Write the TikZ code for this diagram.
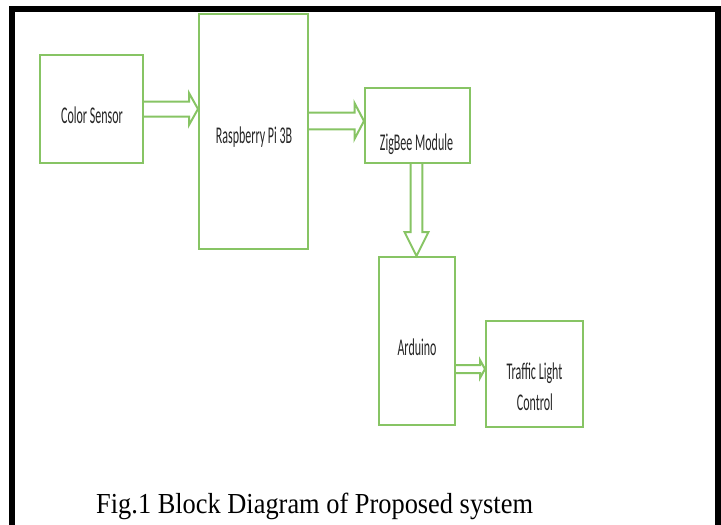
\documentclass[tikz,border=0pt]{standalone}
\usepackage{fontspec}
\usetikzlibrary{calc}
\newfontfamily\lblfont[FakeStretch=0.5]{Carlito}
\newfontfamily\capfont[FakeStretch=0.91]{Liberation Serif}
\definecolor{boxgreen}{RGB}{135,196,100}
\tikzset{
  blockbox/.style={draw=boxgreen, line width=2pt, fill=white, inner sep=0pt},
  lbl/.style={font=\fontsize{24}{26}\selectfont\lblfont, text=black!85, inner sep=0pt, align=center},
  conn/.style={draw=boxgreen, line width=2pt, fill=white, line join=miter},
}
\begin{document}
\begin{tikzpicture}[x=1pt,y=-1pt]
\useasboundingbox (0,0) rectangle (721,525);
% black frame
\draw[line width=6pt, line join=miter] (12,525) -- (12,9) -- (718,9) -- (718,525);
% boxes
\node[blockbox, minimum width=103pt, minimum height=108pt] (cs) at (91.5,109) {};
\node[blockbox, minimum width=109pt, minimum height=235pt] (rp) at (253.5,131.5) {};
\node[blockbox, minimum width=105pt, minimum height=75pt] (zb) at (417.5,125.5) {};
\node[blockbox, minimum width=76pt, minimum height=168pt] (ar) at (417,341) {};
\node[blockbox, minimum width=97pt, minimum height=106pt] (tl) at (534.5,374) {};
% labels
\node[lbl, anchor=base] (csl) at (92,123) {Color Sensor};
\node[lbl, anchor=base] (rpl) at (254,143) {Raspberry Pi 3B};
\node[lbl, anchor=base] (zbl) at (416.5,150) {ZigBee Module};
\node[lbl, anchor=base] (arl) at (417,355) {Arduino};
\node[lbl, anchor=base] (tll1) at (534.5,379) {Traffic Light};
\node[lbl, anchor=base] (tll2) at (535,410) {Control};
% block arrows
\draw[conn] let \p1=(cs.east), \p2=(rp.west) in
  (\x1,\y1+7.5pt) -- (\x2-9pt,\y1+7.5pt) -- (\x2-9pt,\y1+16pt) -- (\x2,\y1)
  -- (\x2-9pt,\y1-16pt) -- (\x2-9pt,\y1-7.5pt) -- (\x1,\y1-7.5pt);
\draw[conn] let \p1=([yshift=10.5pt]rp.east), \p2=(zb.west) in
  (\x1,\y1+8.3pt) -- (\x2-9.5pt,\y1+8.3pt) -- (\x2-9.5pt,\y1+18pt) -- (\x2,\y1)
  -- (\x2-9.5pt,\y1-18pt) -- (\x2-9.5pt,\y1-8.3pt) -- (\x1,\y1-8.3pt);
\draw[conn] let \p1=([xshift=-1pt]zb.south), \p2=(ar.north) in
  (\x1-5.8pt,\y1) -- (\x1-5.8pt,\y2+24pt) -- (\x1-12pt,\y2+24pt) -- (\x1,\y2)
  -- (\x1+12pt,\y2+24pt) -- (\x1+5.8pt,\y2+24pt) -- (\x1+5.8pt,\y1);
\draw[conn] let \p1=([yshift=-28pt]ar.east), \p2=(tl.west) in
  (\x1,\y1+4pt) -- (\x2-5pt,\y1+4pt) -- (\x2-5pt,\y1+9pt) -- (\x2,\y1)
  -- (\x2-5pt,\y1-9pt) -- (\x2-5pt,\y1-4pt) -- (\x1,\y1-4pt);
% caption
\node[anchor=base west, font=\fontsize{29}{32}\selectfont\capfont, inner sep=0pt] (cap) at (96,513) {Fig.1 Block Diagram of Proposed system};
\end{tikzpicture}
\end{document}
